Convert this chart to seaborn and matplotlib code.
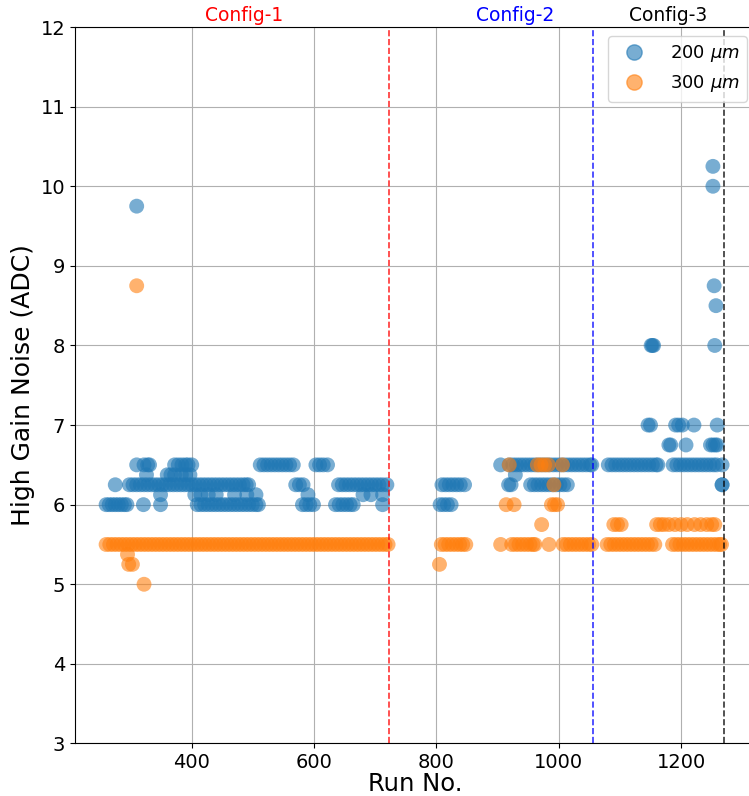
import pandas as pd
import matplotlib
matplotlib.use("Agg")
import matplotlib.pyplot as plt
import matplotlib.lines as mlines
import seaborn as sns

# 200 um sensors: run numbers grouped by noise level (ADC)
b_1025 = [1252]
b_1000 = [1252]
b_975 = [310]
b_875 = [1254]
b_850 = [1257]
b_800 = [1151, 1153, 1155, 1255]
b_700 = [1146, 1150, 1191, 1196, 1202, 1221, 1259]
b_675 = [1180, 1183, 1208, 1248, 1252, 1256, 1259]
b_650 = [310, 322, 328, 331, 372, 378, 384, 390, 394, 400,
         512, 518, 524, 530, 536, 542, 548, 554, 560, 566,
         603, 609, 615, 622, 905,
         919, 925, 931, 937, 943, 949, 955, 961, 967, 973, 979, 985, 991,
         997, 1003, 1009, 1015, 1021, 1027, 1033, 1039, 1045, 1051, 1054,
         1081, 1087, 1093, 1099, 1105, 1111, 1117, 1123, 1129, 1135, 1141,
         1147, 1153, 1159, 1162,
         1187, 1193, 1199, 1205, 1211, 1217, 1223, 1229, 1235, 1241, 1247,
         1253, 1258, 1267]
b_6375 = [326, 360, 366, 372, 383, 390, 397, 929]
b_625 = [275, 298, 304, 310, 316, 322, 328, 334, 340, 346, 352, 358, 364,
         370, 376, 382, 388, 394, 400, 406, 412, 418, 424, 430, 436, 442,
         448, 454, 460, 466, 472, 478, 484, 489, 493,
         570, 576, 582,
         640, 646, 652, 658, 664, 670, 676, 682, 688, 694, 700, 706, 712, 719,
         809, 815, 821, 827, 833, 839, 846,
         918, 922, 954, 960, 966, 972, 978, 984, 990, 996, 1002, 1008, 1014,
         1267, 1267]
b_6125 = [349, 405, 415, 427, 440, 470, 490, 505, 590, 680, 693, 712]
b_600 = [260, 265, 270, 275, 280, 285, 290, 294, 321, 349,
         409, 415, 421, 427, 433, 439, 445, 451, 457, 463, 469, 475, 481,
         487, 493, 499, 505, 509,
         581, 587, 593, 599,
         635, 641, 647, 653, 659, 664, 712,
         806, 812, 818, 824]

# 300 um sensors
o_875 = [310]
o_650 = [919, 965, 971, 977, 983, 1006]
o_625 = [992]
o_600 = [914, 927, 988, 993, 998]
o_575 = [972, 1090, 1096, 1102,
         1160, 1166, 1172, 1180, 1190, 1200, 1210, 1222, 1232, 1242, 1250,
         1255]
o_550 = [260, 266, 272, 278, 284, 290, 296, 302, 308, 314, 320, 326, 332,
         338, 344, 350, 356, 362, 368, 374, 380, 386, 392, 398, 404, 410,
         416, 422, 428, 434, 440, 446, 452, 458, 464, 470, 476, 482, 488,
         494, 500, 506, 512, 518, 524, 530, 536, 542, 548, 554, 560, 566,
         572, 578, 584, 590, 596, 602, 608, 614, 620, 626, 632, 638, 644,
         650, 656, 662, 668, 674, 680, 686, 692, 698, 704, 710, 716, 721,
         808, 814, 820, 826, 832, 838, 843, 848, 905,
         923, 929, 935, 941, 947, 953, 958, 961, 984,
         1007, 1013, 1019, 1025, 1031, 1037, 1043, 1049, 1054,
         1079, 1085, 1091, 1097, 1103, 1109, 1115, 1121, 1127, 1133, 1139,
         1145, 1151, 1157,
         1186, 1192, 1198, 1204, 1210, 1216, 1222, 1228, 1234, 1240, 1246,
         1252, 1258, 1263, 1266]
o_5375 = [295]
o_525 = [297, 303, 805]
o_500 = [322]

config_names = ['Config-1', 'Config-2', 'Config-3']
config_ends = [722, 1056, 1270]
config_text_x = [485, 929, 1178]
config_colors = ['red', 'blue', 'black']

blue_levels = [(10.25, b_1025), (10.0, b_1000), (9.75, b_975), (8.75, b_875),
               (8.5, b_850), (8.0, b_800), (7.0, b_700), (6.75, b_675),
               (6.5, b_650), (6.375, b_6375), (6.25, b_625), (6.125, b_6125),
               (6.0, b_600)]
orange_levels = [(8.75, o_875), (6.5, o_650), (6.25, o_625), (6.0, o_600),
                 (5.75, o_575), (5.5, o_550), (5.375, o_5375), (5.25, o_525),
                 (5.0, o_500)]

rows = []
for label, levels in [('200', blue_levels), ('300', orange_levels)]:
    for val, runs in levels:
        for r in runs:
            rows.append([r, val, label])
df = pd.DataFrame(rows, columns=['Run', 'Noise', 'Sensor'])

palette = {'200': '#1f77b4', '300': '#ff7f0e'}

fig, ax = plt.subplots(figsize=(7.49, 7.96), dpi=100)
fig.subplots_adjust(left=0.1, right=1.009, bottom=0.066, top=0.966)

sns.scatterplot(data=df, x='Run', y='Noise', hue='Sensor', palette=palette,
                s=115, alpha=0.6, linewidth=0, legend=False, ax=ax)

for name, xe, xt, c in zip(config_names, config_ends, config_text_x, config_colors):
    ax.axvline(xe, color=c, linestyle='--', linewidth=1.2, alpha=0.8)
    ax.text(xt, 12.03, name, color=c, ha='center', va='bottom', fontsize=13.5)

ax.set_xlim(209, 1322)
ax.set_ylim(3, 12)
ax.set_yticks(range(3, 13))
ax.set_xticks([400, 600, 800, 1000, 1200])
ax.grid(True)
ax.set_axisbelow(True)
ax.tick_params(axis='both', labelsize=14)
ax.set_xlabel('Run No.', fontsize=17.5, labelpad=0)
ax.set_ylabel('High Gain Noise (ADC)', fontsize=18)

handles = [
    mlines.Line2D([], [], color=palette['200'], marker='o', linestyle='None',
                  markersize=11, alpha=0.6, label=r'200 $\mu m$'),
    mlines.Line2D([], [], color=palette['300'], marker='o', linestyle='None',
                  markersize=11, alpha=0.6, label=r'300 $\mu m$'),
]
ax.legend(handles=handles, loc='upper right', fontsize=13, handletextpad=1.0)

plt.savefig('out.png', dpi=100)
